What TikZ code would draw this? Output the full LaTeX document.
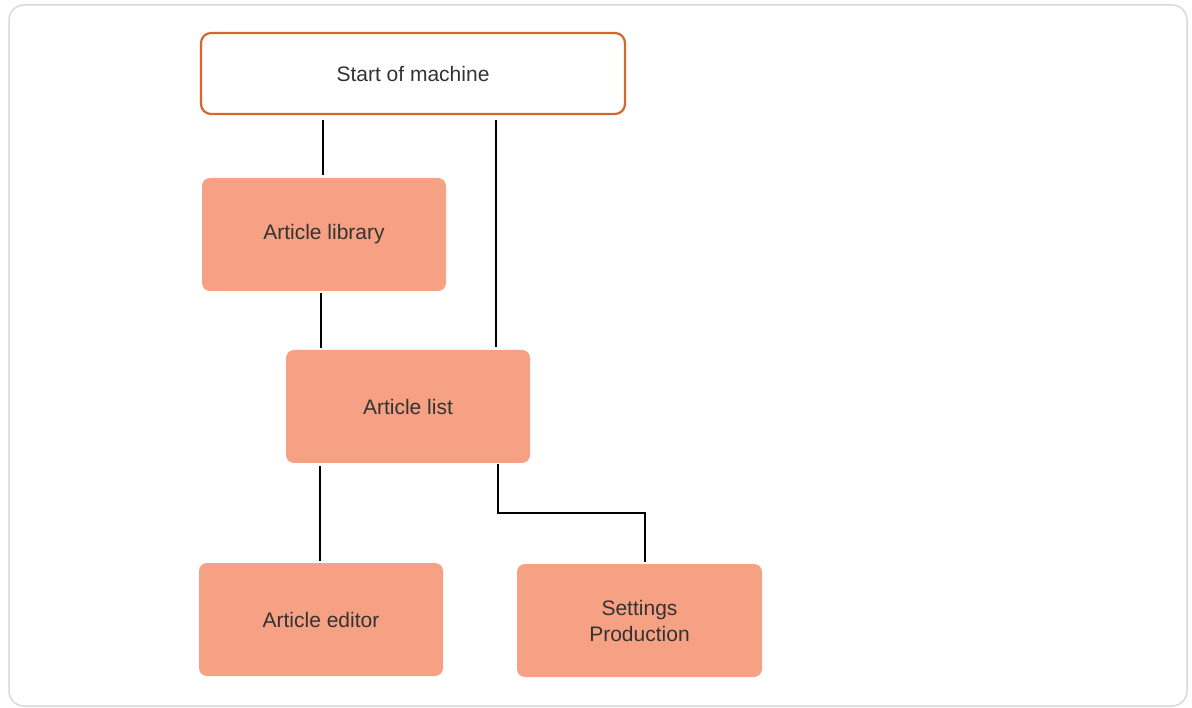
\documentclass[tikz,border=0pt]{standalone}
\usepackage{fontspec}
\setmainfont{Liberation Sans}
\begin{document}
\begin{tikzpicture}[x=1pt,y=-1pt,
  box/.style={rectangle, rounded corners=8pt, fill=boxfill, draw=none,
    minimum width=244pt, minimum height=113pt, text=txt, align=center,
    font=\fontsize{21}{26}\selectfont, inner sep=0pt},
  startbox/.style={rectangle, rounded corners=10pt, fill=white, draw=startline,
    line width=2.2pt, minimum width=424pt, minimum height=81pt, text=txt,
    font=\fontsize{21}{26}\selectfont, inner sep=0pt},
  conn/.style={draw=black, line width=2pt}]
\definecolor{boxfill}{HTML}{F6A183}
\definecolor{startline}{HTML}{D4682A}
\definecolor{txt}{HTML}{333333}
\definecolor{frame}{HTML}{D9D9D9}
\useasboundingbox (0,0) rectangle (1192,708);
\draw[frame, line width=1.5pt, rounded corners=15pt] (9,5) rectangle (1187,706);
\node[startbox] (start) at (413,73.5) {Start of machine};
\node[box] (lib) at (324,234.5) {Article library};
\node[box] (list) at (408,406.5) {Article list};
\node[box] (editor) at (321,619.5) {Article editor};
\node[box, minimum width=245pt] (settings) at (639.5,620.5) {Settings\\Production};
\draw[conn, shorten <=5pt, shorten >=3pt] ([xshift=-90pt]start.south) -- ([xshift=-90pt]start.south |- lib.north);
\draw[conn, shorten <=5pt, shorten >=3pt] ([xshift=83pt]start.south) -- ([xshift=83pt]start.south |- list.north);
\draw[conn, shorten <=2pt, shorten >=2pt] ([xshift=-3pt]lib.south) -- ([xshift=-3pt]lib.south |- list.north);
\draw[conn, shorten <=3pt, shorten >=2pt] ([xshift=-88pt]list.south) -- ([xshift=-88pt]list.south |- editor.north);
\coordinate (bend) at ([yshift=-50pt]list.south);
\draw[conn, shorten <=1pt, shorten >=2pt] ([xshift=90pt]list.south) -- ([xshift=90pt]list.south |- bend) -- ([xshift=5.5pt]settings.north |- bend) -- ([xshift=5.5pt]settings.north);
\end{tikzpicture}
\end{document}
